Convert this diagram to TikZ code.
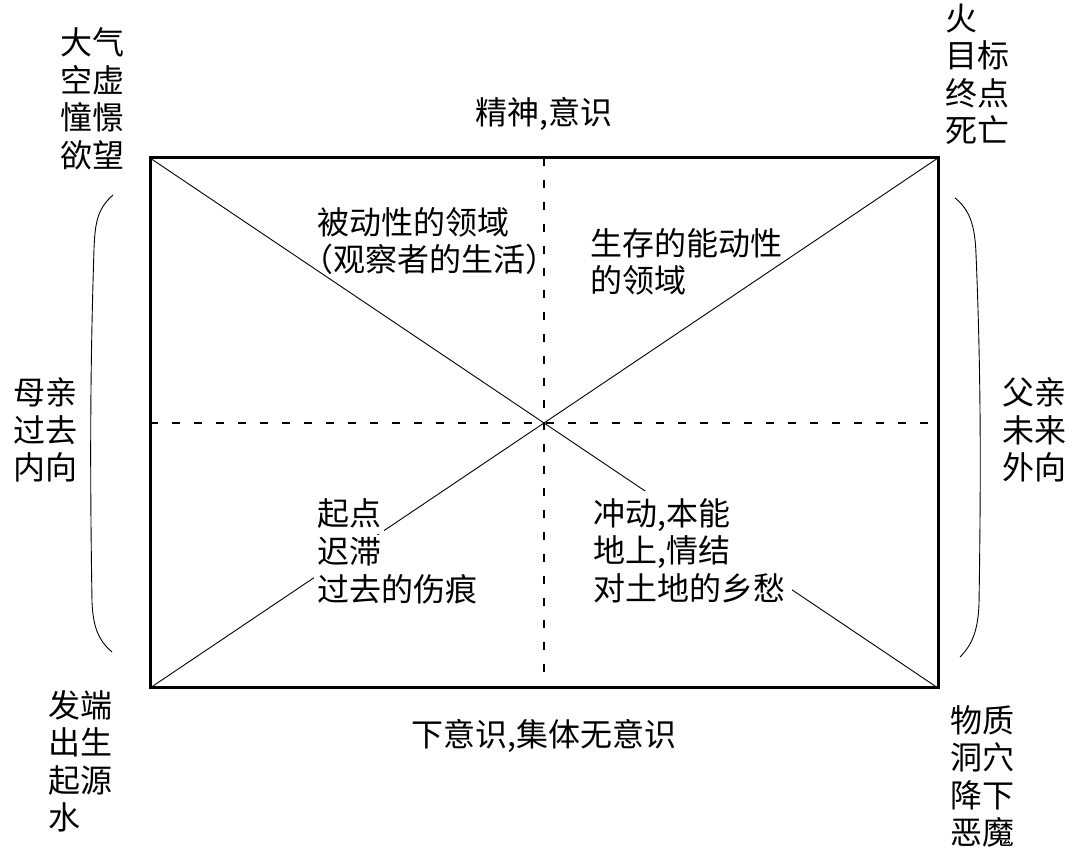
\documentclass[tikz,border=0pt]{standalone}
\usepackage{fontspec}
\setmainfont{Noto Sans CJK SC}
\usetikzlibrary{positioning}

\begin{document}
\begin{tikzpicture}[
  x=1pt, y=1pt,
  txt/.style={inner sep=0pt, align=left, font=\fontsize{32}{37.5}\selectfont},
  row/.style={txt, fill=white, inner sep=3pt, text height=26pt, text depth=6pt},
  frm/.style={draw, line width=3pt, outer sep=0pt,
              minimum width=788pt, minimum height=530pt},
  diag/.style={line width=0.9pt},
  axis/.style={line width=1.3pt, dash pattern=on 8pt off 14pt},
  bow/.style={line width=0.9pt}
]
  \useasboundingbox (0,0) rectangle (1089,854);
  \node[frm] (frame) at (544,431) {};

  % axes and diagonals
  \draw[axis] (frame.north) -- (frame.south);
  \draw[axis] (frame.west) -- (frame.east);
  \draw[diag] (frame.north west) -- (frame.south east);
  \draw[diag] (frame.south west) -- (frame.north east);

  % corner labels
  \node[txt, above left=-12pt and 25pt of frame.north west] (air) {大气\\空虚\\憧憬\\欲望};
  \node[txt, above right=13pt and 7pt of frame.north east] (fire) {火\\目标\\终点\\死亡};
  \node[txt, below left=2pt and 37pt of frame.south west] (water) {发端\\出生\\起源\\水};
  \node[txt, below right=17pt and 12pt of frame.south east] (cave) {物质\\洞穴\\降下\\恶魔};

  % side labels
  \node[txt, left=72pt of frame.west, yshift=-7pt] (mother) {母亲\\过去\\内向};
  \node[txt, right=64pt of frame.east, yshift=-7pt] (father) {父亲\\未来\\外向};
  \node[txt, above=27pt of frame.north] (spirit) {精神,意识};
  \node[txt, below=31pt of frame.south] (unconscious) {下意识,集体无意识};

  % brackets
  \draw[bow] (113,659) .. controls (97,645) and (95,630) .. (94,605)
    .. controls (90,480) and (90,380) .. (92,252)
    .. controls (93,228) and (98,214) .. (112,202);
  \draw[bow] (955,656) .. controls (970,644) and (975,628) .. (976,600)
    .. controls (981,480) and (981,380) .. (979,250)
    .. controls (978,225) and (973,210) .. (960,197);

  % quadrants
  \node[txt, anchor=north west] (passive) at (317,647)
    {被动性的领域\\\kern-.5em（观察者的生活）};
  \node[txt, anchor=north west] (active) at (590,626) {生存的能动性\\的领域};

  \node[row, anchor=north west] (origin) at (314,358) {起点};
  \node[row, below=0pt of origin.south west, anchor=north west] (stall) {迟滞};
  \node[row, below=0pt of stall.south west, anchor=north west] (wound) {过去的伤痕};

  \node[txt, fill=white, inner sep=7pt, anchor=north west] (drive) at (586,363)
    {冲动,本能\\地上,情结\\对土地的乡愁};
\end{tikzpicture}
\end{document}
